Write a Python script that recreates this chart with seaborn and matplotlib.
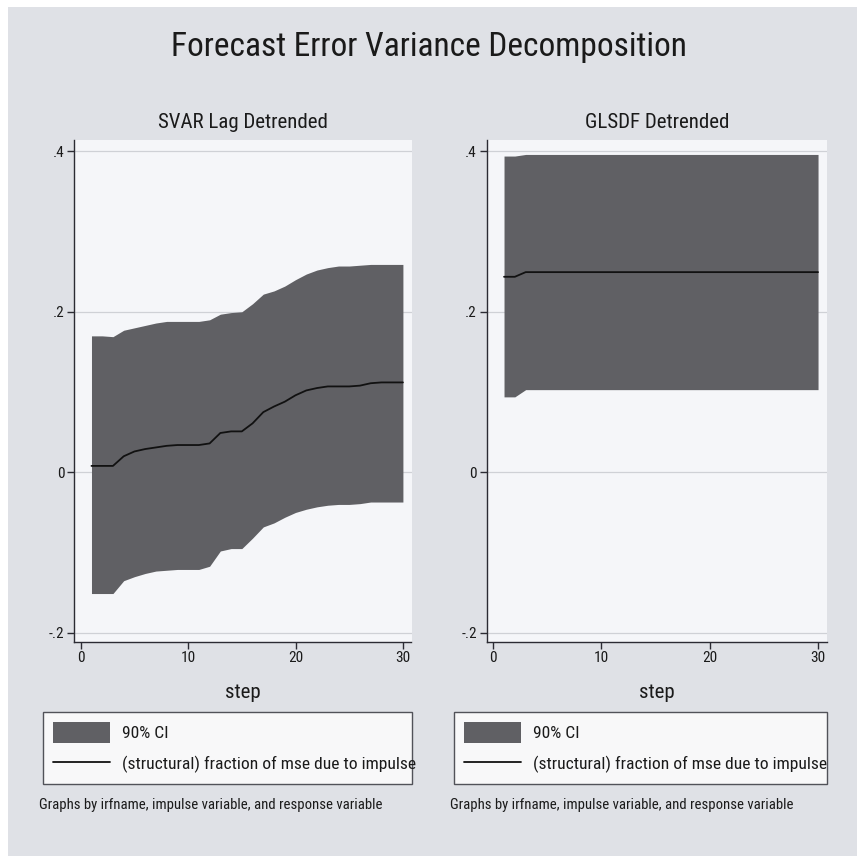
import numpy as np
import pandas as pd
import matplotlib
matplotlib.use("Agg")
import matplotlib.pyplot as plt
from matplotlib.patches import Patch, Rectangle
from matplotlib.lines import Line2D
from matplotlib import font_manager as fm
import seaborn as sns

# ---------------- data ----------------
steps = list(range(1, 31))

svar_upper = [0.170, 0.170, 0.169, 0.177, 0.180, 0.183, 0.186, 0.188, 0.188, 0.188,
              0.188, 0.190, 0.197, 0.199, 0.200, 0.210, 0.222, 0.226, 0.232, 0.240,
              0.247, 0.252, 0.255, 0.257, 0.257, 0.258, 0.259, 0.259, 0.259, 0.259]
svar_line = [0.008, 0.008, 0.008, 0.020, 0.026, 0.029, 0.031, 0.033, 0.034, 0.034,
             0.034, 0.036, 0.049, 0.051, 0.051, 0.061, 0.075, 0.082, 0.088, 0.096,
             0.102, 0.105, 0.107, 0.107, 0.107, 0.108, 0.111, 0.112, 0.112, 0.112]
svar_lower = [-0.151, -0.151, -0.151, -0.135, -0.130, -0.126, -0.123, -0.122, -0.121, -0.121,
              -0.121, -0.117, -0.098, -0.095, -0.095, -0.082, -0.068, -0.063, -0.056, -0.050,
              -0.046, -0.043, -0.041, -0.040, -0.040, -0.039, -0.037, -0.037, -0.037, -0.037]

gls_upper = [0.394, 0.394] + [0.396] * 28
gls_line = [0.2436, 0.2436] + [0.2494] * 28
gls_lower = [0.094, 0.094] + [0.103] * 28

panel_titles = ["SVAR Lag Detrended", "GLSDF Detrended"]
main_title = "Forecast Error Variance Decomposition"
xlabel = "step"
ytick_vals = [-0.2, 0.0, 0.2, 0.4]
ytick_labels = ["-.2", "0", ".2", ".4"]
xtick_vals = [0, 10, 20, 30]
legend_labels = ["90% CI", "(structural) fraction of mse due to impulse"]
note = "Graphs by irfname, impulse variable, and response variable"

# ---------------- style ----------------
sns.set_theme(style="white")
plt.rcParams["font.family"] = ["Liberation Sans", "DejaVu Sans"]

# look for a narrow / condensed face (reference uses Arial Narrow style)
narrow_file = None
for key in ["LiberationSansNarrow-Regular", "RobotoCondensed-Regular",
            "DejaVuSansCondensed.ttf"]:
    for f in fm.fontManager.ttflist:
        if key.lower() in f.fname.lower():
            narrow_file = f.fname
            break
    if narrow_file:
        break

def fp(size):
    if narrow_file:
        return fm.FontProperties(fname=narrow_file, size=size)
    return fm.FontProperties(family=["Liberation Sans", "DejaVu Sans"], size=size)

W, H = 857, 856
fig = plt.figure(figsize=(W / 100, H / 100), dpi=100)
fig.patch.set_facecolor("white")
renderer = fig.canvas.get_renderer()

def fit_size(text, target_px, base=12.0):
    t = fig.text(0, 0, text, fontproperties=fp(base))
    w = t.get_window_extent(renderer=renderer).width
    t.remove()
    return base * target_px / w

BG = "#dfe1e6"
PLOTBG = "#f5f6f9"
BAND = "#606064"
GRID = "#cfd1d6"
AX = "#2b2b33"
TXT = "#1a1a1a"

def fx(px):
    return px / W

def fy(py):
    return 1 - py / H

fig.add_artist(Rectangle((fx(8), 0), 1 - fx(8), fy(7), transform=fig.transFigure,
                         facecolor=BG, edgecolor="none", zorder=-10))

title_size = min(fit_size(main_title, 513), 29)
fig.text(0.5, fy(47), main_title, ha="center", va="center",
         fontproperties=fp(title_size), color=TXT)

sub_size = min(fit_size(panel_titles[0], 179), 15)
leg_size = min(fit_size(legend_labels[1], 292), 13)
note_size = min(fit_size(note, 341), 11)
tick_size = 11.0 if narrow_file else 10.5

panels = [
    (74.3, 411.5, 42.7, svar_upper, svar_line, svar_lower),
    (486.7, 826.7, 454.0, gls_upper, gls_line, gls_lower),
]
top_px, bot_px = 140, 641.7

for i, (x0, x1, lx0, up, mid, lo) in enumerate(panels):
    ax = fig.add_axes([fx(x0), fy(bot_px), fx(x1) - fx(x0), fy(top_px) - fy(bot_px)])
    ax.set_facecolor(PLOTBG)
    df = pd.DataFrame({"step": steps, "upper": up, "line": mid, "lower": lo})
    for yv in ytick_vals:
        ax.axhline(yv, color=GRID, lw=0.9, zorder=0)
    ax.fill_between(df["step"], df["lower"], df["upper"], color=BAND, lw=0, zorder=2)
    sns.lineplot(data=df, x="step", y="line", ax=ax, color="#111111", lw=1.3, zorder=3)
    ax.set_xlim(-0.6, 30.8)
    ax.set_ylim(-0.211, 0.414)
    ax.set_yticks(ytick_vals)
    ax.set_yticklabels(ytick_labels)
    ax.set_xticks(xtick_vals)
    ax.set_xticklabels([str(v) for v in xtick_vals])
    ax.set_xlabel("")
    ax.set_ylabel("")
    for s in ["top", "right"]:
        ax.spines[s].set_visible(False)
    for s in ["left", "bottom"]:
        ax.spines[s].set_color(AX)
        ax.spines[s].set_linewidth(1.0)
    ax.tick_params(axis="both", direction="out", length=5, width=1.0, color=AX,
                   labelcolor=TXT, pad=2, left=True, bottom=True)
    for lab in ax.get_xticklabels() + ax.get_yticklabels():
        lab.set_fontproperties(fp(tick_size))

    cx = (x0 + x1) / 2
    fig.text(fx(cx), fy(123), panel_titles[i], ha="center", va="center",
             fontproperties=fp(sub_size), color=TXT)
    fig.text(fx(cx), fy(692), xlabel, ha="center", va="center",
             fontproperties=fp(sub_size), color=TXT)

    # legend box
    fpx = leg_size * 100 / 72.0
    handles = [Patch(facecolor=BAND, edgecolor="none"),
               Line2D([0], [0], color="#111111", lw=1.3)]
    leg = ax.legend(handles, legend_labels, loc="upper left",
                    bbox_to_anchor=(fx(lx0), fy(787), fx(x1) - fx(lx0), fy(712) - fy(787)),
                    bbox_transform=fig.transFigure, mode="expand", borderaxespad=0,
                    prop=fp(leg_size), frameon=True, fancybox=False,
                    handlelength=57 / fpx, handleheight=25 / fpx,
                    handletextpad=12 / fpx, labelspacing=11 / fpx,
                    borderpad=10 / fpx, labelcolor=TXT)
    leg.get_frame().set_facecolor("white")
    leg.get_frame().set_edgecolor(AX)
    leg.get_frame().set_linewidth(1.0)

    fig.text(fx(lx0 - 3.5), fy(805), note, ha="left", va="center",
             fontproperties=fp(note_size), color=TXT)

fig.savefig("out.png", dpi=100, facecolor=fig.get_facecolor())
